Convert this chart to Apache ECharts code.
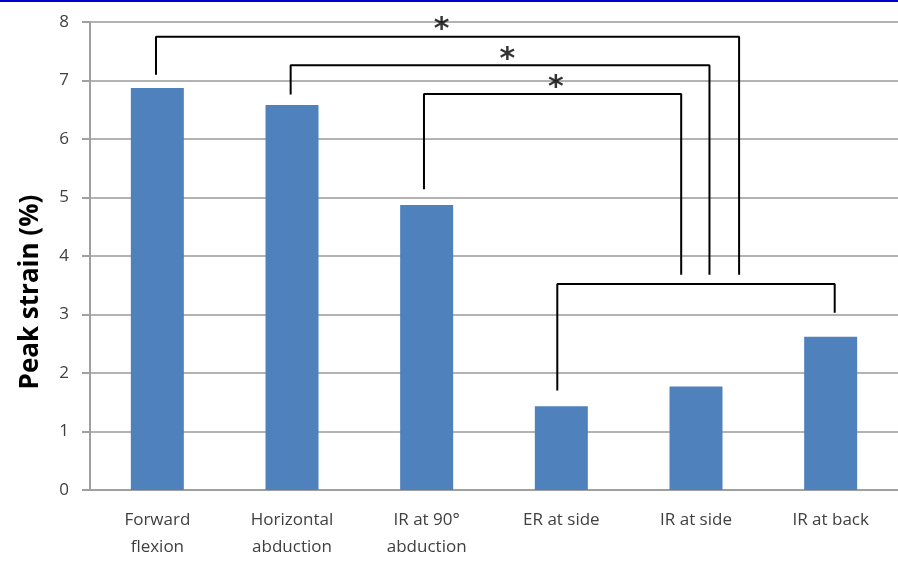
<!DOCTYPE html>
<html>
<head>
<meta charset="utf-8">
<script src="https://cdn.jsdelivr.net/npm/echarts@6/dist/echarts.min.js"></script>
<style>html,body{margin:0;padding:0;background:#fff}#c{width:898px;height:561px}</style>
</head>
<body>
<div id="c"></div>
<script>
var categories = ['Forward\nflexion', 'Horizontal\nabduction', 'IR at 90°\nabduction', 'ER at side', 'IR at side', 'IR at back'];
var peakStrain = [6.87, 6.58, 4.87, 1.43, 1.77, 2.62];
var yTicks = [0, 1, 2, 3, 4, 5, 6, 7, 8];
var yAxisTitle = 'Peak strain (%)';
// significance brackets: [x in category units, y in % strain]
var bracket1 = [[0.49, 7.10], [0.49, 7.75], [4.82, 7.75], [4.82, 3.68]];
var bracket2 = [[1.49, 6.76], [1.49, 7.26], [4.60, 7.26], [4.60, 3.68]];
var bracket3 = [[2.48, 5.14], [2.48, 6.77], [4.39, 6.77], [4.39, 3.68]];
var bracket4 = [[3.47, 1.70], [3.47, 3.52], [5.53, 3.52], [5.53, 3.03]];
var stars = [[2.61, 8.0], [3.10, 7.48], [3.46, 7.0]];

var chart = echarts.init(document.getElementById('c'));
var brackets = [bracket1, bracket2, bracket3, bracket4];
var font = 'Open Sans, Liberation Sans, sans-serif';
var series = [{
  type: 'bar',
  data: peakStrain,
  barWidth: 53,
  itemStyle: { color: '#4F81BD' },
  z: 2
}];
brackets.forEach(function (b) {
  series.push({
    type: 'line', xAxisIndex: 1, data: b, symbol: 'none',
    lineStyle: { color: '#000', width: 2 }, silent: true, z: 3, animation: false
  });
});
series.push({
  type: 'scatter', xAxisIndex: 1, data: stars, symbolSize: 0, silent: true, z: 4,
  label: { show: true, position: 'inside', formatter: '*', fontSize: 30, fontWeight: 'bold', color: '#000', fontFamily: 'DejaVu Sans', offset: [0, 8] }
});
chart.setOption({
  animation: false,
  backgroundColor: '#fff',
  grid: { left: 90, right: 0, top: 22, bottom: 69 },
  xAxis: [{
    type: 'category', data: categories,
    axisLine: { lineStyle: { color: '#a0a0a0', width: 2 } },
    axisTick: { show: false },
    axisLabel: { color: '#404040', fontSize: 17, fontFamily: font, lineHeight: 27, margin: 17, interval: 0 }
  }, {
    type: 'value', min: 0, max: 6, show: false
  }],
  yAxis: {
    type: 'value', min: yTicks[0], max: yTicks[yTicks.length - 1], interval: 1,
    axisLine: { show: true, lineStyle: { color: '#a0a0a0', width: 2 } },
    axisTick: { show: true, length: 8, lineStyle: { color: '#a0a0a0', width: 2 } },
    splitLine: { lineStyle: { color: '#b3b3b3', width: 2 } },
    axisLabel: { color: '#404040', fontSize: 17, fontFamily: font, margin: 21 }
  },
  graphic: [
    { type: 'rect', shape: { x: 0, y: 0, width: 898, height: 2 }, style: { fill: '#0000cc' } },
    { type: 'text', x: 31, y: 292, rotation: Math.PI / 2,
      style: { text: yAxisTitle, font: 'bold 26px ' + font, fill: '#000', align: 'center', verticalAlign: 'middle' } }
  ],
  series: series
});
</script>
</body>
</html>
